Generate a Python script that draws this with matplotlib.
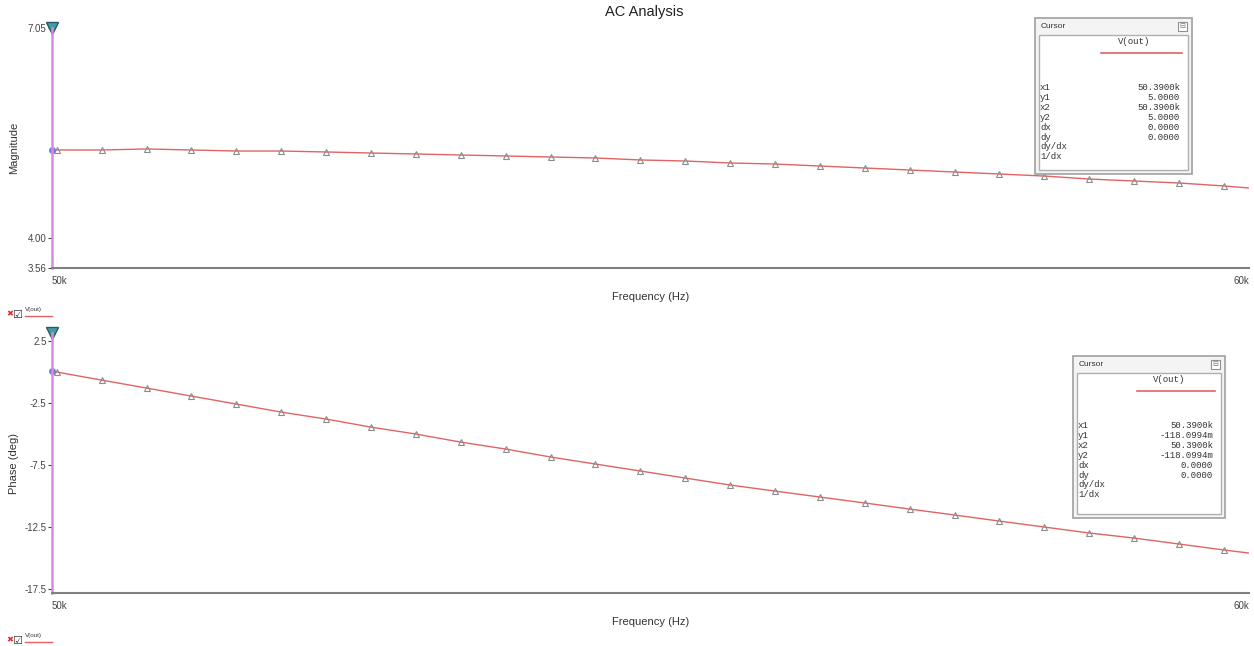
import matplotlib
matplotlib.use('Agg')
from matplotlib import pyplot as plt
from matplotlib.patches import Rectangle

plt.rcParams['font.family'] = ['Liberation Sans', 'DejaVu Sans']

# frequency points (kHz); index 1..27 carry the triangle markers
freq = [50.0, 50.04, 50.415, 50.79, 51.165, 51.54, 51.915, 52.29, 52.665, 53.04,
        53.415, 53.79, 54.165, 54.54, 54.915, 55.29, 55.665, 56.04, 56.415, 56.79,
        57.165, 57.54, 57.915, 58.29, 58.665, 59.04, 59.415, 59.79, 60.0]
magnitude = [5.276, 5.276, 5.276, 5.291, 5.276, 5.261, 5.261, 5.247, 5.232, 5.218,
             5.203, 5.189, 5.174, 5.160, 5.131, 5.116, 5.087, 5.072, 5.043, 5.014,
             4.985, 4.956, 4.927, 4.897, 4.854, 4.825, 4.796, 4.753, 4.723]
phase = [0.05, 0.00, -0.65, -1.29, -1.94, -2.58, -3.23, -3.79, -4.44, -5.00,
         -5.65, -6.21, -6.85, -7.42, -7.98, -8.55, -9.11, -9.60, -10.08, -10.56,
         -11.05, -11.53, -12.02, -12.50, -12.98, -13.39, -13.87, -14.35, -14.60]

mag_ticks = [3.56, 4.00, 7.05]
mag_ticklabels = ['3.56', '4.00', '7.05']
phase_ticks = [2.5, -2.5, -7.5, -12.5, -17.5]
phase_ticklabels = ['2.5', '-2.5', '-7.5', '-12.5', '-17.5']
x_ticks = [50.0, 60.0]
x_ticklabels = ['50k', '60k']

cursor_labels = ['x1', 'y1', 'x2', 'y2', 'dx', 'dy', 'dy/dx', '1/dx']
cursor_mag = ['50.3900k', '5.0000', '50.3900k', '5.0000', '0.0000', '0.0000', '', '']
cursor_phase = ['50.3900k', '-118.0994m', '50.3900k', '-118.0994m', '0.0000', '0.0000', '', '']

W, H = 1254, 646
fig = plt.figure(figsize=(W / 100, H / 100), dpi=100)

line_col = '#e06464'
cursor_col = '#d58be6'
mark_col = '#8c8c8c'


def px_axes(left, top, right, bottom):
    return fig.add_axes([left / W, 1 - bottom / H, (right - left) / W, (bottom - top) / H])


def style(ax, ticks, labels, ylab):
    for s in ['top', 'right']:
        ax.spines[s].set_visible(False)
    ax.spines['left'].set_color(cursor_col)
    ax.spines['left'].set_linewidth(1.8)
    ax.spines['bottom'].set_color('#808080')
    ax.spines['bottom'].set_linewidth(1.5)
    ax.set_xlim(50.0, 60.0)
    ax.set_xticks(x_ticks)
    ax.set_xticklabels(x_ticklabels)
    ax.set_yticks(ticks)
    ax.set_yticklabels(labels)
    ax.tick_params(axis='both', labelsize=7, colors='#444444', length=3, width=0.8)
    ax.tick_params(axis='y', pad=1)
    ax.tick_params(axis='x', length=0, pad=6)
    ax.set_xlabel('Frequency (Hz)', fontsize=8, color='#333333', labelpad=4)
    ax.set_ylabel(ylab, fontsize=8, color='#333333')
    ax.yaxis.set_label_coords(-33 / 1197, 0.5)
    xl = ax.get_xticklabels()
    xl[0].set_ha('left')
    xl[-1].set_ha('right')


ax1 = px_axes(52, 28, 1249, 268)
ax1.plot(freq, magnitude, color=line_col, lw=1.0, marker='^', markersize=4.5,
         markerfacecolor='none', markeredgecolor=mark_col, markeredgewidth=0.8,
         markevery=list(range(1, 28)))
ax1.plot([freq[0]], [magnitude[0]], 'o', color='#7a7ad8', markersize=4, clip_on=False)
ax1.set_ylim(3.56, 7.05)
style(ax1, mag_ticks, mag_ticklabels, 'Magnitude')
ax1.plot([50.0], [7.05], marker='v', color='#3f9e9e', markeredgecolor='#2a5a6a',
         markersize=8, clip_on=False)

ax2 = px_axes(52, 333, 1249, 593)
ax2.plot(freq, phase, color=line_col, lw=1.0, marker='^', markersize=4.5,
         markerfacecolor='none', markeredgecolor=mark_col, markeredgewidth=0.8,
         markevery=list(range(1, 28)))
ax2.plot([freq[0]], [phase[0]], 'o', color='#7a7ad8', markersize=4, clip_on=False)
ax2.set_ylim(-17.82, 3.15)
style(ax2, phase_ticks, phase_ticklabels, 'Phase (deg)')
ax2.plot([50.0], [3.15], marker='v', color='#3f9e9e', markeredgecolor='#2a5a6a',
         markersize=8, clip_on=False)

# overlay in pixel coordinates for title, cursor boxes and legend icons
ov = fig.add_axes([0, 0, 1, 1], zorder=10)
ov.set_xlim(0, W)
ov.set_ylim(H, 0)
ov.axis('off')
ov.patch.set_alpha(0)

ov.text(644, 12, 'AC Analysis', fontsize=10.5, ha='center', va='center', color='#222222')


def cursor_box(x0, y0, w, h, vals, vname):
    ov.add_patch(Rectangle((x0, y0), w, h, facecolor='#f4f4f4', edgecolor='#a0a0a0', lw=1.2))
    ov.add_patch(Rectangle((x0 + 4, y0 + 17), w - 8, h - 21, facecolor='white',
                           edgecolor='#b0b0b0', lw=1.0))
    ov.text(x0 + 6, y0 + 9, 'Cursor', fontsize=6, va='center', color='#333333')
    ov.add_patch(Rectangle((x0 + w - 14, y0 + 4), 9, 9, facecolor='white',
                           edgecolor='#909090', lw=0.8))
    ov.text(x0 + w - 9.5, y0 + 8.5, '\u229f', fontsize=5, ha='center', va='center', color='#777777')
    cx = x0 + w * 0.63
    ov.text(cx, y0 + 24, vname, fontsize=6.5, family='Liberation Mono', ha='center',
            va='center', color='#333333')
    ov.plot([x0 + w * 0.42, x0 + w - 10], [y0 + 35, y0 + 35], color=line_col, lw=1.2)
    for i, (lab, v) in enumerate(zip(cursor_labels, vals)):
        yy = y0 + 70 + i * 9.8
        ov.text(x0 + 5, yy, lab, fontsize=6.5, family='Liberation Mono', va='center',
                color='#333333')
        ov.text(x0 + w - 12, yy, v, fontsize=6.5, family='Liberation Mono', va='center',
                ha='right', color='#333333')


cursor_box(1035, 18, 157, 156, cursor_mag, 'V(out)')
cursor_box(1073, 356, 152, 162, cursor_phase, 'V(out)')


def legend_icon(y):
    ov.text(10, y, '\u2716', fontsize=6, color='#e03030', va='center', ha='center')
    ov.text(17, y, '\u2611', fontsize=8, color='#333333', va='center', ha='center')
    ov.text(25, y - 5, 'V(out)', fontsize=4.5, color='#333333', va='center')
    ov.plot([25, 52], [y + 1, y + 1], color=line_col, lw=1.0)


legend_icon(315)
legend_icon(641)

fig.savefig('out.png', dpi=100)
